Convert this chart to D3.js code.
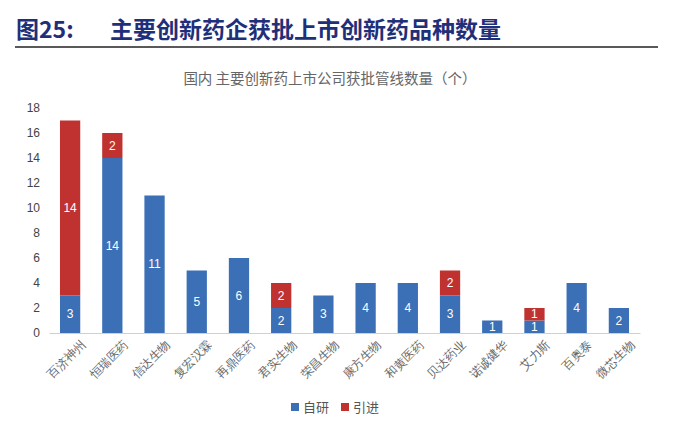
<!DOCTYPE html>
<html><head><meta charset="utf-8">
<script src="https://cdn.jsdelivr.net/npm/d3@7"></script>
<style>body{margin:0;background:#fff;font-family:"Noto Sans CJK SC",sans-serif}</style>
</head><body><svg id="c" width="681" height="443"></svg>
<script>
const companies = ['百济神州','恒瑞医药','信达生物','复宏汉霖','再鼎医药','君实生物','荣昌生物','康方生物','和黄医药','贝达药业','诺诚健华','艾力斯','百奥泰','微芯生物'];
const selfDev = [3,14,11,5,6,2,3,4,4,3,1,1,4,2];
const licensed = [14,2,0,0,0,2,0,0,0,2,0,1,0,0];
const yTicks = [0,2,4,6,8,10,12,14,16,18];
const blue = '#3b6fb6', red = '#c0322f';

const svg = d3.select('#c');
svg.append('text').attr('x',16).attr('y',38).attr('fill','#1f2f7a')
  .attr('font-size',23).attr('font-weight','bold').text('图25:');
svg.append('text').attr('x',110).attr('y',38).attr('fill','#1f2f7a')
  .attr('font-size',23).attr('font-weight','bold').text('主要创新药企获批上市创新药品种数量');
svg.append('line').attr('x1',15).attr('x2',658).attr('y1',47).attr('y2',47).attr('stroke','#222').attr('stroke-width',1.5);
svg.append('text').attr('x',330).attr('y',84).attr('text-anchor','middle').attr('fill','#666')
  .attr('font-size',14.5).text('国内 主要创新药上市公司获批管线数量（个）');

const x = d3.scaleBand().domain(companies).range([49,640]).paddingInner(0.52).paddingOuter(0.26);
const y = d3.scaleLinear().domain([0,18]).range([333,108]);

const ax = svg.append('g').attr('transform','translate(0,333)')
  .call(d3.axisBottom(x).tickSize(0).tickPadding(8));
ax.select('.domain').attr('stroke','#d0d0d0');
ax.selectAll('text').attr('font-size',12).attr('fill','#666')
  .attr('text-anchor','end').attr('dy','0.3em').attr('transform','translate(8,4) rotate(-45)');

const ay = svg.append('g').attr('transform','translate(44,0)')
  .call(d3.axisLeft(y).tickValues(yTicks).tickSize(0).tickPadding(4));
ay.select('.domain').remove();
ay.selectAll('text').attr('font-size',12).attr('fill','#444').attr('font-family','"Liberation Sans"').attr('text-anchor','end');

const g = svg.append('g');
companies.forEach((c,i) => {
  const a = selfDev[i], b = licensed[i];
  g.append('rect').attr('x',x(c)).attr('width',x.bandwidth()).attr('y',y(a)).attr('height',y(0)-y(a)).attr('fill',blue);
  g.append('text').attr('x',x(c)+x.bandwidth()/2).attr('y',(y(0)+y(a))/2+4).attr('text-anchor','middle')
    .attr('fill','#fff').attr('font-size',12).attr('font-family','"Liberation Sans"').text(a);
  if (b > 0) {
    g.append('rect').attr('x',x(c)).attr('width',x.bandwidth()).attr('y',y(a+b)).attr('height',y(a)-y(a+b)).attr('fill',red);
    g.append('text').attr('x',x(c)+x.bandwidth()/2).attr('y',(y(a)+y(a+b))/2+4).attr('text-anchor','middle')
      .attr('fill','#fff').attr('font-size',12).attr('font-family','"Liberation Sans"').text(b);
  }
});

const lg = svg.append('g').attr('transform','translate(291,408)');
[['自研',blue],['引进',red]].forEach((d,i) => {
  lg.append('rect').attr('x',i*50).attr('y',-5).attr('width',8).attr('height',8).attr('fill',d[1]);
  lg.append('text').attr('x',i*50+12).attr('y',4).attr('font-size',13).attr('fill','#555').text(d[0]);
});
</script></body></html>
